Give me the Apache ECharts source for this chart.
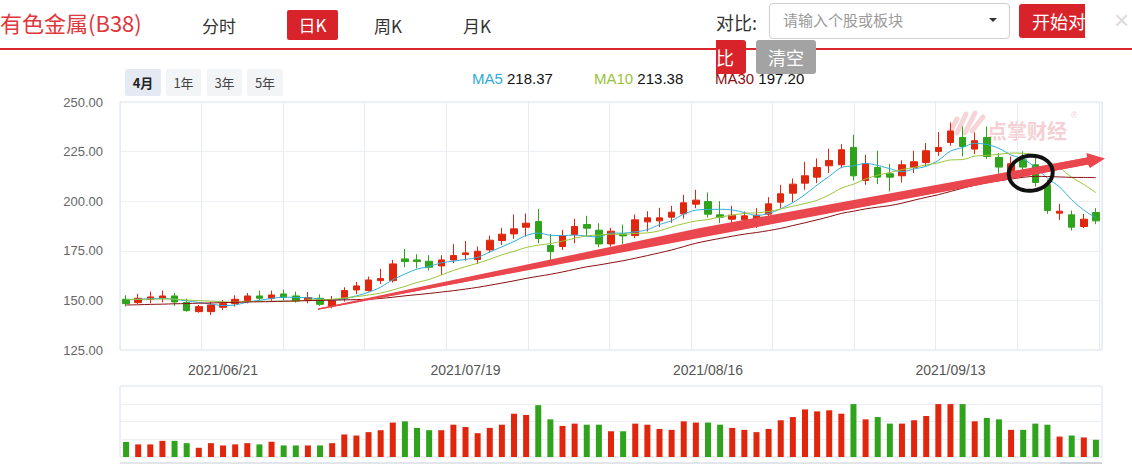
<!DOCTYPE html>
<html><head><meta charset="utf-8">
<script src="https://cdn.jsdelivr.net/npm/echarts@6/dist/echarts.min.js"></script>
<style>
html,body{margin:0;padding:0;background:#fff;width:1132px;height:464px;overflow:hidden;font-family:"Liberation Sans",Arial,"Noto Sans CJK SC",sans-serif;}
#chart{position:absolute;left:0;top:0;width:1132px;height:464px;}
.a{position:absolute;white-space:nowrap;line-height:1;}
.cjk{font-family:"Noto Sans CJK SC","Liberation Sans",sans-serif;}
.tab{font-size:17px;color:#333;top:17px;}
.rng{top:69px;height:27px;line-height:27px;font-size:13px;color:#444;background:#f3f4f6;text-align:center;border-radius:2px;}
.lg{top:71px;font-size:15px;color:#111;}
</style></head><body>
<div id="chart"></div>

<div class="a cjk" style="left:0;top:11px;font-size:22px;color:#e0373d;">有色金属(B38)</div>
<div class="a cjk tab" style="left:202px;">分时</div>
<div class="a cjk" style="left:287px;top:10px;width:51px;height:30px;line-height:30px;background:#d9232a;color:#fff;font-size:17px;text-align:center;border-radius:2px;">日K</div>
<div class="a cjk tab" style="left:374px;">周K</div>
<div class="a cjk tab" style="left:463px;">月K</div>
<div class="a" style="left:0;top:48px;width:1132px;height:2px;background:#d9262c;"></div>

<div class="a cjk" style="left:716px;top:13px;font-size:18px;color:#333;">对比:</div>
<div class="a" style="left:769px;top:3px;width:239px;height:34px;border:1px solid #cfcfcf;border-radius:4px;background:#fff;"></div>
<div class="a cjk" style="left:783px;top:12px;font-size:15px;color:#9a9a9a;">请输入个股或板块</div>
<div class="a" style="left:989px;top:18px;width:0;height:0;border-left:4px solid transparent;border-right:4px solid transparent;border-top:4px solid #333;"></div>
<div class="a cjk" style="left:1019px;top:4px;width:66px;height:34px;line-height:34px;background:#d9232a;color:#fff;font-size:18px;overflow:hidden;border-radius:3px 0 0 3px;padding-left:13px;box-sizing:border-box;">开始对</div>
<div class="a" style="left:1114px;top:7px;font-size:26px;color:#dcdcdc;">×</div>

<div class="a lg" style="left:472px;"><span style="color:#2fabd8">MA5</span> 218.37</div>
<div class="a lg" style="left:594px;"><span style="color:#98c23c">MA10</span> 213.38</div>
<div class="a lg" style="left:715px;"><span style="color:#8a1015">MA30</span> 197.20</div>

<div class="a cjk" style="left:716px;top:40px;width:30px;height:34px;line-height:34px;background:#d9232a;color:#fff;font-size:18px;border-radius:0 3px 3px 0;">比</div>
<div class="a cjk" style="left:756px;top:40px;width:60px;height:34px;line-height:34px;background:#a3a3a3;color:#fff;font-size:18px;text-align:center;border-radius:3px;">清空</div>

<div class="a cjk rng" style="left:125px;width:36px;background:#e4e9f3;color:#222;font-weight:bold;">4月</div>
<div class="a cjk rng" style="left:166px;width:35px;">1年</div>
<div class="a cjk rng" style="left:207px;width:35px;">3年</div>
<div class="a cjk rng" style="left:247px;width:36px;">5年</div>

<script>
const dates = ['2021/06/08','2021/06/09','2021/06/10','2021/06/11','2021/06/15','2021/06/16','2021/06/17','2021/06/18','2021/06/21','2021/06/22',
'2021/06/23','2021/06/24','2021/06/25','2021/06/28','2021/06/29','2021/06/30','2021/07/01','2021/07/02','2021/07/05','2021/07/06',
'2021/07/07','2021/07/08','2021/07/09','2021/07/12','2021/07/13','2021/07/14','2021/07/15','2021/07/16','2021/07/19','2021/07/20',
'2021/07/21','2021/07/22','2021/07/23','2021/07/26','2021/07/27','2021/07/28','2021/07/29','2021/07/30','2021/08/02','2021/08/03',
'2021/08/04','2021/08/05','2021/08/06','2021/08/09','2021/08/10','2021/08/11','2021/08/12','2021/08/13','2021/08/16','2021/08/17',
'2021/08/18','2021/08/19','2021/08/20','2021/08/23','2021/08/24','2021/08/25','2021/08/26','2021/08/27','2021/08/30','2021/08/31',
'2021/09/01','2021/09/02','2021/09/03','2021/09/06','2021/09/07','2021/09/08','2021/09/09','2021/09/10','2021/09/13','2021/09/14',
'2021/09/15','2021/09/16','2021/09/17','2021/09/22','2021/09/23','2021/09/24','2021/09/27','2021/09/28','2021/09/29','2021/09/30','2021/10/08'];

const opens = [150.56,148.88,150.56,151.06,152.24,148.88,144.34,144.34,146.52,148.37,149.89,152.24,151.06,153.25,152.24,149.89,151.06,147.19,151.06,155.27,
154.93,159.98,159.98,170.92,170.41,169.74,167.38,170.41,173.10,170.58,175.46,180.17,183.53,186.90,189.76,177.64,177.14,183.20,188.24,185.38,
178.48,183.53,182.69,189.59,190.09,191.94,193.63,198.51,199.85,193.12,190.93,190.60,190.60,193.46,199.52,204.06,209.10,212.13,217.85,218.36,
227.11,210.45,217.01,213.82,212.81,217.01,219.53,225.09,229.63,232.15,226.26,232.15,222.06,214.49,220.88,218.36,208.26,193.97,193.12,187.24,194.30];
const closes = [148.37,151.06,151.74,152.24,149.21,144.84,146.86,147.70,148.37,150.56,152.24,151.06,152.75,151.57,149.89,151.40,148.04,149.89,154.93,157.29,
160.32,161.00,168.39,169.57,169.57,166.71,170.41,172.60,173.94,174.78,180.34,183.37,186.06,188.92,181.18,174.61,182.69,187.24,186.39,178.48,
184.88,182.52,190.60,191.61,191.61,194.47,199.18,200.53,193.46,191.94,192.95,192.62,192.95,198.67,203.73,208.60,212.81,217.01,220.54,225.93,
212.81,218.86,212.13,212.13,218.36,219.87,225.42,227.11,235.35,227.61,230.47,222.56,217.18,218.86,217.18,209.44,195.31,194.97,186.90,190.93,190.09];
const lows = [146.86,148.20,148.54,149.05,147.19,144.34,143.83,142.65,145.18,146.86,148.54,149.89,149.38,149.89,148.88,148.54,147.19,146.02,149.38,153.25,
154.43,158.30,158.97,166.71,166.21,165.03,162.84,168.73,170.07,168.39,174.11,177.98,181.01,182.19,178.82,169.57,175.46,178.82,182.19,176.80,
177.14,178.48,181.35,184.71,186.90,189.08,191.27,196.49,191.77,188.92,187.91,188.24,186.56,191.77,196.49,199.52,205.74,209.10,214.16,216.67,
210.45,208.26,208.60,204.90,209.44,214.16,217.51,222.89,227.95,222.56,223.74,221.38,213.82,213.31,215.83,207.42,193.63,190.60,185.21,186.39,188.41];
const highs = [152.58,153.25,154.43,154.93,153.76,150.90,147.70,149.21,150.22,152.58,153.76,154.93,154.93,155.44,154.43,154.26,153.08,152.24,156.62,159.31,
162.00,165.87,170.41,175.96,173.27,172.77,172.77,178.32,180.00,177.14,182.69,186.56,193.29,193.80,196.15,183.37,185.55,191.11,192.62,188.92,
186.56,188.24,193.29,194.97,196.65,197.66,203.22,205.74,204.40,200.02,197.66,194.80,196.49,202.04,208.26,211.46,219.87,221.55,226.43,228.79,
233.50,223.40,225.42,218.86,220.54,225.42,229.29,234.85,239.72,237.70,234.68,237.70,224.24,222.56,225.09,222.56,210.78,198.67,195.31,193.63,196.49];

const ma5 = [150.40,150.60,150.90,151.00,150.52,149.82,148.98,148.17,147.40,147.67,149.15,149.99,151.00,151.64,151.50,151.33,150.73,150.16,150.83,152.31,
154.09,156.69,160.39,163.31,165.77,167.05,168.93,169.77,170.65,171.69,174.41,177.01,179.70,182.69,183.97,182.83,182.69,182.93,182.42,181.88,
183.94,183.90,184.57,185.62,188.24,190.16,193.49,195.48,195.85,195.92,195.61,194.30,192.78,193.83,196.18,199.31,203.35,208.16,212.54,216.98,
217.82,219.03,218.05,216.37,214.86,216.27,217.58,220.58,225.22,227.07,229.19,228.62,226.63,223.34,221.25,217.04,211.59,207.15,200.76,195.51,191.64];
const ma10 = [150.50,150.50,150.60,150.70,150.60,150.20,149.90,149.60,149.30,149.10,149.49,149.49,149.59,149.52,149.59,150.24,150.36,150.58,151.24,151.91,
152.71,153.71,155.28,157.07,159.04,160.57,162.81,165.08,166.98,168.73,170.73,172.97,174.74,176.67,177.83,178.62,179.85,181.32,182.56,182.93,
183.39,183.30,183.75,184.02,185.06,187.05,188.70,190.03,190.74,192.08,192.89,193.90,194.13,194.84,196.05,197.46,198.83,200.47,203.19,206.58,
208.57,211.19,213.11,214.46,215.92,217.05,218.31,219.32,220.80,220.97,222.73,223.10,223.61,224.28,224.16,223.12,220.11,216.89,212.05,208.38,204.34];
const ma30 = [147.70,147.80,148.00,148.10,148.30,148.40,148.60,148.70,148.90,149.00,149.20,149.30,149.40,149.60,149.70,149.90,150.00,150.10,150.30,150.40,
150.60,151.00,151.60,152.30,152.90,153.50,154.20,154.90,155.70,156.58,157.64,158.72,159.87,161.09,162.15,163.14,164.34,165.66,166.93,167.86,
168.94,169.99,171.26,172.59,173.98,175.41,177.12,178.81,180.09,181.25,182.34,183.39,184.21,185.18,186.31,187.71,189.13,190.61,192.16,193.86,
194.95,196.13,197.00,197.77,199.01,200.52,201.95,203.27,204.91,206.54,208.06,209.40,210.28,211.19,212.04,212.54,212.42,212.23,212.01,211.98,211.88];
const volumes = [0.84,0.71,0.71,0.91,0.91,0.78,0.52,0.78,0.65,0.71,0.78,0.71,0.86,0.65,0.65,0.65,0.65,0.78,1.27,1.21,
1.40,1.51,1.94,2.01,1.64,1.51,1.51,1.82,1.69,1.34,1.64,1.82,2.44,2.37,2.92,2.12,1.75,1.88,1.82,1.82,
1.45,1.45,1.88,1.82,1.58,1.53,2.01,1.94,1.94,1.82,1.64,1.53,1.40,1.58,2.07,2.25,2.68,2.57,2.63,2.44,
2.98,2.12,2.25,1.88,1.88,2.07,2.31,2.98,2.98,2.98,2.01,2.20,2.12,1.53,1.53,1.88,1.82,1.15,1.21,1.10,0.97];
const yTicks = [125, 150, 175, 200, 225, 250];

const UP = '#e0260d', DOWN = '#2fa31b';
const kData = opens.map((o, i) => [o, closes[i], lows[i], highs[i]]);
const volData = volumes.map((v, i) => ({
  value: v,
  itemStyle: { color: closes[i] >= opens[i] ? UP : DOWN }
}));

const chart = echarts.init(document.getElementById('chart'), null, { renderer: 'svg', width: 1132, height: 464 });
const gridBorder = '#d9e0eb';
const split = '#eceff4';
chart.setOption({
  animation: false,
  textStyle: { fontFamily: '"Liberation Sans", Arial, sans-serif' },
  grid: [
    { left: 120, right: 30, top: 102, height: 248, show: true, borderColor: gridBorder, borderWidth: 1, backgroundColor: 'transparent' },
    { left: 120, right: 30, top: 386, height: 71, show: true, borderColor: gridBorder, borderWidth: 1, backgroundColor: 'transparent' }
  ],
  xAxis: [
    { type: 'category', gridIndex: 0, data: dates, boundaryGap: true,
      axisLine: { show: false }, axisTick: { show: false }, splitLine: { show: false },
      axisLabel: { interval: (i) => i % 20 === 8, color: '#555', fontSize: 14, margin: 13 } },
    { type: 'value', gridIndex: 0, position: 'top', min: 0, max: 12.039, interval: 1,
      axisLine: { show: false }, axisTick: { show: false }, axisLabel: { show: false },
      splitLine: { show: true, lineStyle: { color: '#e6ebf2', width: 1 } } },
    { type: 'category', gridIndex: 1, data: dates, boundaryGap: true,
      axisLine: { show: false }, axisTick: { show: false }, axisLabel: { show: false }, splitLine: { show: false } }
  ],
  yAxis: [
    { type: 'value', gridIndex: 0, min: yTicks[0], max: yTicks[yTicks.length - 1], interval: 25,
      axisLine: { show: false }, axisTick: { show: false },
      axisLabel: { formatter: (v) => v.toFixed(2), color: '#666', fontSize: 13, margin: 17 },
      splitLine: { lineStyle: { color: split } } },
    { type: 'value', gridIndex: 1, min: 0, max: 4, interval: 1,
      axisLine: { show: false }, axisTick: { show: false }, axisLabel: { show: false },
      splitLine: { lineStyle: { color: split } } }
  ],
  series: [
    { type: 'candlestick', xAxisIndex: 0, yAxisIndex: 0, data: kData, barWidth: 7, z: 3,
      itemStyle: { color: UP, color0: DOWN, borderColor: UP, borderColor0: DOWN, borderWidth: 1 } },
    { type: 'line', name: 'MA5', xAxisIndex: 0, yAxisIndex: 0, data: ma5, showSymbol: false, smooth: 0.3, z: 4,
      lineStyle: { color: '#31aedb', width: 1 } },
    { type: 'line', name: 'MA10', xAxisIndex: 0, yAxisIndex: 0, data: ma10, showSymbol: false, smooth: 0.3, z: 4,
      lineStyle: { color: '#9ac43a', width: 1 } },
    { type: 'line', name: 'MA30', xAxisIndex: 0, yAxisIndex: 0, data: ma30, showSymbol: false, smooth: 0.3, z: 4,
      lineStyle: { color: '#8a0f12', width: 1 } },
    { type: 'bar', xAxisIndex: 2, yAxisIndex: 1, data: volData, barWidth: 6 }
  ],
  graphic: [
    // watermark
    { type: 'group', z: 1, silent: true, children: [
      { type: 'line', shape: { x1: 950, y1: 132, x2: 957, y2: 119 }, style: { stroke: '#f6d5d8', lineWidth: 5, lineCap: 'round' } },
      { type: 'line', shape: { x1: 957, y1: 133, x2: 966, y2: 114 }, style: { stroke: '#f6d5d8', lineWidth: 5, lineCap: 'round' } },
      { type: 'line', shape: { x1: 965, y1: 133, x2: 975, y2: 113 }, style: { stroke: '#f6d5d8', lineWidth: 5, lineCap: 'round' } },
      { type: 'line', shape: { x1: 972, y1: 131, x2: 983, y2: 117 }, style: { stroke: '#f6d5d8', lineWidth: 5, lineCap: 'round' } },
      { type: 'text', style: { x: 987, y: 121, text: '点掌财经', fill: '#f4d0d4', font: 'bold 20px "Noto Sans CJK SC"' } },
      { type: 'text', style: { x: 1071, y: 110, text: '®', fill: '#f4d0d4', font: '9px "Liberation Sans"' } }
    ]},
    // hand-drawn arrow annotation
    { type: 'polygon', z: 20, silent: true,
      shape: { points: [[318, 308.5], [1087, 157.5], [1086.5, 153], [1105, 158.5], [1090, 168], [1088, 164.5], [318, 309.8]] },
      style: { fill: '#e9464d' } },
    { type: 'polygon', z: 20, silent: true,
      shape: { points: [[318, 308.5], [700, 228], [1087, 157.5], [1088, 164.5], [700, 237], [318, 309.8]] },
      style: { fill: '#e9464d' } },
    // circle annotation
    { type: 'ellipse', z: 21, silent: true, rotation: 0.12, originX: 1030.5, originY: 173.5,
      shape: { cx: 1030.5, cy: 173.5, rx: 22, ry: 17.5 },
      style: { fill: 'none', stroke: '#111', lineWidth: 4 } },
    // slider strip at bottom
    { type: 'rect', shape: { x: 120, y: 462, width: 982, height: 3 }, style: { fill: '#e2e5ea' } },
    { type: 'rect', shape: { x: 1060, y: 462, width: 42, height: 3 }, style: { fill: '#cfd4db' } }
  ]
});
</script>
</body></html>
